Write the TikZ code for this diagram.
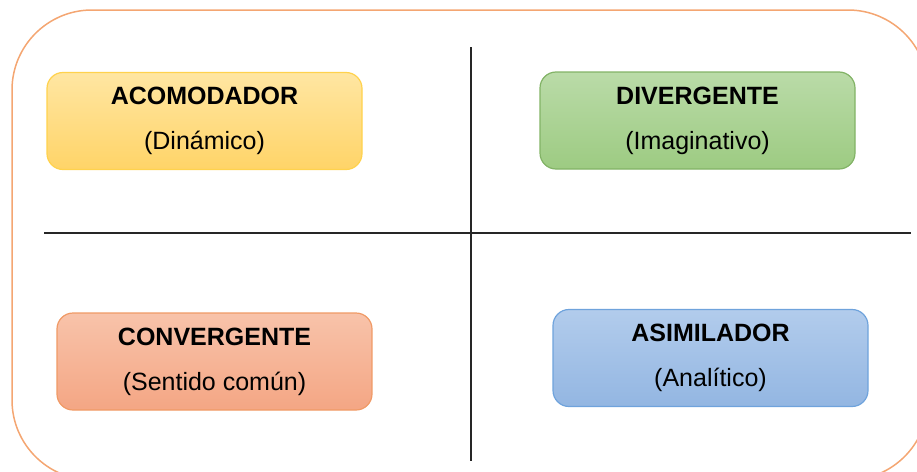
\documentclass[tikz,border=0pt]{standalone}
\usepackage{fontspec}
\setmainfont{Liberation Sans}
\usepackage{xcolor}
\usetikzlibrary{positioning,calc}

\definecolor{frameorange}{HTML}{F4A672}
\definecolor{yellowtop}{HTML}{FFE6A2}
\definecolor{yellowbot}{HTML}{FFD468}
\definecolor{yellowline}{HTML}{FFD24D}
\definecolor{greentop}{HTML}{BADBA8}
\definecolor{greenbot}{HTML}{9DCB82}
\definecolor{greenline}{HTML}{82B366}
\definecolor{orangetop}{HTML}{F8C3AA}
\definecolor{orangebot}{HTML}{F4A684}
\definecolor{orangeline}{HTML}{F09A66}
\definecolor{bluetop}{HTML}{B2CCEC}
\definecolor{bluebot}{HTML}{93B6E2}
\definecolor{blueline}{HTML}{6FA3DC}

\begin{document}
\begin{tikzpicture}[x=1pt, y=-1pt,
    stylebox/.style={rounded corners=16pt, minimum width=315pt, minimum height=97pt,
        line width=1.2pt, align=center, inner sep=0pt,
        font=\fontsize{25}{45}\selectfont},
    divider/.style={line width=1.5pt, black!85}]
    \clip (0,0) rectangle (917,471);

    % outer frame
    \draw[frameorange, line width=1.5pt, rounded corners=80pt] (12,10) rectangle (928,480);

    % quadrant dividers
    \coordinate (vtop) at (471,47);
    \coordinate (vbot) at (471,461);
    \coordinate (hleft) at (44,233);
    \coordinate (hright) at (911,233);
    \draw[divider] (vtop) -- (vbot);
    \draw[divider] (hleft) -- (hright);

    % learning styles
    \node[stylebox, draw=yellowline, top color=yellowtop, bottom color=yellowbot] (acom) at (204.5,121)
        {\textbf{ACOMODADOR}\\(Dinámico)};
    \node[stylebox, draw=greenline, top color=greentop, bottom color=greenbot] (diver) at (697.5,120.5)
        {\textbf{DIVERGENTE}\\(Imaginativo)};
    \node[stylebox, draw=orangeline, top color=orangetop, bottom color=orangebot] (conver) at (214.5,361.5)
        {\textbf{CONVERGENTE}\\(Sentido común)};
    \node[stylebox, draw=blueline, top color=bluetop, bottom color=bluebot] (asim) at (710.5,358)
        {\textbf{ASIMILADOR}\\(Analítico)};
\end{tikzpicture}
\end{document}
